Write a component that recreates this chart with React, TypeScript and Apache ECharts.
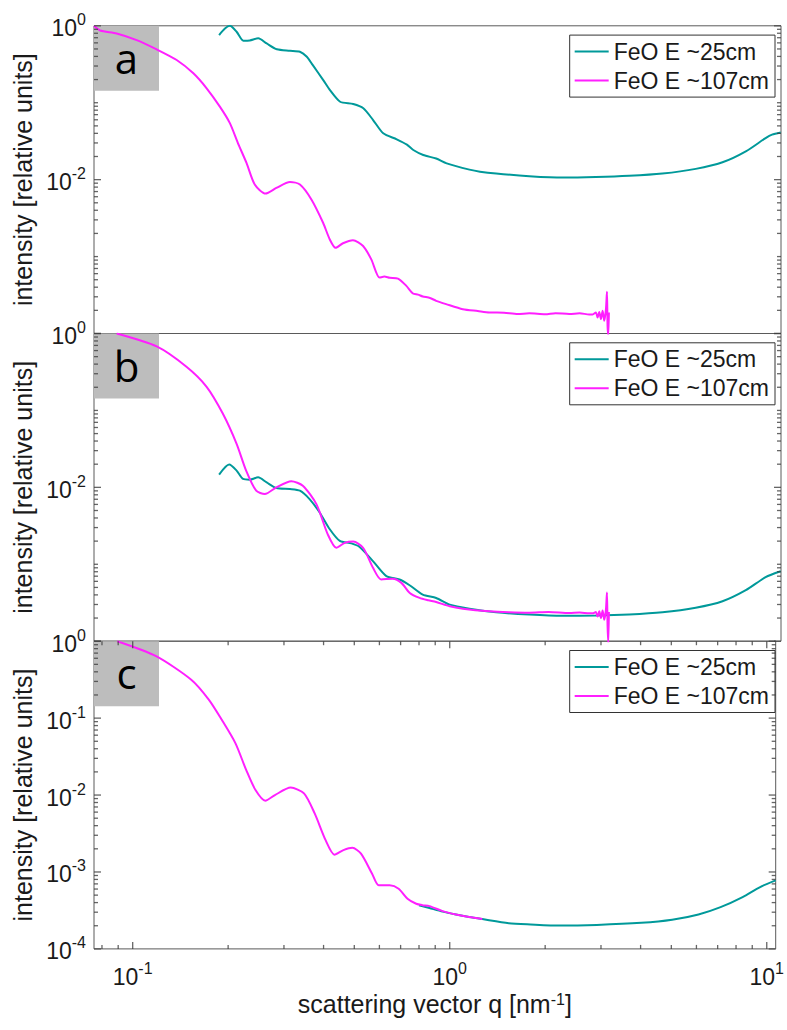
import React, { useEffect, useRef } from "react";
import * as echarts from "echarts";

// Series names shown in every legend
const SERIES_NAMES = ["FeO E ~25cm", "FeO E ~107cm"];
const PANEL_LETTERS = ["a", "b", "c"];
const TEAL = "#00999a";
const MAGENTA = "#ff1fff";

// Panel a: each curve normalised to its own maximum
const tealA: [number, number][] = [
  [0.186, 0.759], [0.194, 0.923], [0.201, 1.0], [0.211, 0.836], [0.2215, 0.64], [0.232, 0.645],
  [0.2466, 0.687], [0.262, 0.59], [0.282, 0.495], [0.31, 0.474], [0.333, 0.46], [0.35, 0.396],
  [0.365, 0.31], [0.394, 0.197], [0.413, 0.147], [0.445, 0.103], [0.489, 0.0962], [0.526, 0.0846],
  [0.5636, 0.06], [0.607, 0.04], [0.669, 0.0334], [0.72, 0.0285], [0.754, 0.0243], [0.81, 0.0209],
  [0.889, 0.0188], [0.959, 0.0163], [1.13, 0.0135], [1.219, 0.0127], [1.37, 0.012], [1.74, 0.0111],
  [2.21, 0.01063], [2.81, 0.0108], [3.57, 0.0112], [4.54, 0.012], [5.77, 0.0138], [7.0, 0.0168],
  [8.28, 0.0233], [9.55, 0.0347], [10.0, 0.0385], [10.65, 0.0411],
];
const magentaA: [number, number][] = [
  [0.0755, 1.0], [0.0789, 0.87], [0.0889, 0.796], [0.1027, 0.652], [0.1186, 0.494], [0.137, 0.359],
  [0.1545, 0.241], [0.17, 0.154], [0.187, 0.089], [0.201, 0.0543], [0.213, 0.0299], [0.2266, 0.0165],
  [0.2405, 0.00863], [0.26, 0.0066], [0.281, 0.0078], [0.31, 0.0093], [0.333, 0.00863], [0.3617, 0.00552],
  [0.3935, 0.00275], [0.413, 0.00167], [0.4307, 0.0013], [0.4541, 0.00149], [0.488, 0.00163],
  [0.525, 0.00137], [0.557, 0.00092], [0.591, 0.000533], [0.612, 0.00055], [0.636, 0.00053],
  [0.675, 0.000518], [0.717, 0.000416], [0.752, 0.000331], [0.78, 0.00032], [0.807, 0.000303],
  [0.85, 0.00029], [0.889, 0.000266], [0.955, 0.000241], [1.077, 0.000207], [1.2, 0.000196],
  [1.305, 0.000188], [1.45, 0.000186], [1.6, 0.000179], [1.74, 0.000183], [1.95, 0.000178],
  [2.1, 0.000184], [2.32, 0.000179], [2.5, 0.000183], [2.68, 0.000177], [2.745, 0.000177],
  [2.81, 0.000188], [2.845, 0.000162], [2.88, 0.000191], [2.915, 0.000154], [2.95, 0.000197],
  [2.985, 0.000146], [3.022, 0.000207], [3.044, 0.000348], [3.057, 0.000126], [3.073, 0.000095],
  [3.087, 0.000188],
];

// Panel b: curves scaled onto each other
const tealB: [number, number][] = [
  [0.186, 0.01465], [0.2, 0.0198], [0.211, 0.0165], [0.221, 0.01285], [0.232, 0.0126],
  [0.2464, 0.0135], [0.262, 0.0116], [0.281, 0.0098], [0.31, 0.0095], [0.333, 0.00904],
  [0.357, 0.00703], [0.384, 0.00471], [0.413, 0.00285], [0.444, 0.00201], [0.4826, 0.00187],
  [0.512, 0.00168], [0.5636, 0.0011], [0.621, 0.0007], [0.683, 0.000634], [0.734, 0.000534],
  [0.807, 0.000403], [0.889, 0.000365], [0.98, 0.000299], [1.13, 0.000265], [1.37, 0.000238],
  [1.74, 0.000222], [2.21, 0.000214], [2.81, 0.000216], [3.57, 0.000223], [4.54, 0.000238],
  [5.77, 0.000272], [7.0, 0.00033], [8.28, 0.00046], [9.55, 0.00068], [10.65, 0.00081],
];
const magentaB: [number, number][] = [
  [0.0889, 1.0], [0.1186, 0.68], [0.147, 0.37], [0.17, 0.203], [0.191, 0.091], [0.211, 0.0368],
  [0.226, 0.0165], [0.243, 0.00904], [0.2585, 0.00818], [0.281, 0.01], [0.313, 0.012],
  [0.34, 0.0105], [0.375, 0.00605], [0.407, 0.00245], [0.433, 0.00164], [0.46, 0.0019],
  [0.489, 0.00197], [0.525, 0.00164], [0.564, 0.0009], [0.598, 0.000634], [0.65, 0.00065],
  [0.692, 0.000573], [0.735, 0.000424], [0.789, 0.000365], [0.84, 0.00034], [0.889, 0.000323],
  [0.98, 0.000284], [1.077, 0.000265], [1.305, 0.000245], [1.5, 0.000238], [1.74, 0.000235],
  [2.0, 0.00024], [2.32, 0.000232], [2.5, 0.000236], [2.68, 0.00023], [2.745, 0.00023],
  [2.81, 0.00024], [2.845, 0.00021], [2.88, 0.000245], [2.915, 0.0002], [2.95, 0.00025],
  [2.985, 0.00019], [3.022, 0.00026], [3.044, 0.00043], [3.057, 0.00016], [3.073, 0.000095],
  [3.087, 0.00024],
];

// Panel c: merged curve, 107 cm at low q and 25 cm at high q
const tealC: [number, number][] = [
  [0.8, 0.00037], [0.863, 0.00034], [0.95, 0.000305], [1.046, 0.00028], [1.151, 0.00026],
  [1.267, 0.000244], [1.535, 0.000216], [1.8, 0.000208], [2.22, 0.000201], [2.91, 0.000205],
  [4.02, 0.000218], [5.03, 0.000239], [6.09, 0.00028], [7.15, 0.000349], [8.39, 0.000472],
  [9.53, 0.000637], [10.67, 0.000778],
];
const magentaC: [number, number][] = [
  [0.0894, 1.0], [0.1185, 0.64], [0.153, 0.316], [0.174, 0.173], [0.191, 0.095], [0.211, 0.047],
  [0.228, 0.0212], [0.244, 0.0116], [0.262, 0.00843], [0.281, 0.01], [0.315, 0.0125],
  [0.347, 0.0105], [0.375, 0.00577], [0.406, 0.00259], [0.433, 0.00168], [0.462, 0.00192],
  [0.493, 0.00206], [0.525, 0.00173], [0.569, 0.00095], [0.597, 0.00067], [0.647, 0.00067],
  [0.69, 0.000606], [0.736, 0.000449], [0.784, 0.000386], [0.82, 0.00037], [0.863, 0.00036],
  [0.95, 0.00031], [1.046, 0.00028], [1.151, 0.000259], [1.267, 0.000244],
];

const PANEL_DATA = [
  [tealA, magentaA],
  [tealB, magentaB],
  [tealC, magentaC],
];

// Axis ranges and tick positions
const Q_MIN = 0.0755;
const Q_MAX = 10.67;
const I_MIN = 1e-4;
const I_MAX = 1;

const xLabelExponents = [-1, 0, 1];
const yLabelExponentsAB = [0, -2];
const yLabelExponentsC = [0, -1, -2, -3, -4];

const xMajorTicks = [0.1, 1, 10];
const xMinorTicks = [0.08, 0.09, 0.2, 0.3, 0.4, 0.5, 0.6, 0.7, 0.8, 0.9, 2, 3, 4, 5, 6, 7, 8, 9];
const yMajorTicksAB = [1, 1e-2, 1e-4];
const yMinorTicksAB = [
  2e-4, 3e-4, 4e-4, 5e-4, 6e-4, 7e-4, 8e-4, 9e-4, 1e-3,
  2e-3, 3e-3, 4e-3, 5e-3, 6e-3, 7e-3, 8e-3, 9e-3,
  2e-2, 3e-2, 4e-2, 5e-2, 6e-2, 7e-2, 8e-2, 9e-2, 1e-1,
  0.2, 0.3, 0.4, 0.5, 0.6, 0.7, 0.8, 0.9,
];
const yMajorTicksC = [1, 1e-1, 1e-2, 1e-3, 1e-4];
const yMinorTicksC = [
  2e-4, 3e-4, 4e-4, 5e-4, 6e-4, 7e-4, 8e-4, 9e-4,
  2e-3, 3e-3, 4e-3, 5e-3, 6e-3, 7e-3, 8e-3, 9e-3,
  2e-2, 3e-2, 4e-2, 5e-2, 6e-2, 7e-2, 8e-2, 9e-2,
  0.2, 0.3, 0.4, 0.5, 0.6, 0.7, 0.8, 0.9,
];

// Layout
const PLOT_LEFT = 94;
const PLOT_WIDTH = 687;
const PANEL_TOPS = [25.8, 333.5, 641.2];
const PANEL_HEIGHT = 307.7;
const BOX_SIZE = 65;
const MAJOR_LEN = 7;
const MINOR_LEN = 4;
const TICK_WIDTH = 1.3;
const FONT = "'Liberation Sans', Arial, Helvetica, sans-serif";
const AXIS_COLOR = "#5a5a5a";
const TICK_COLOR = "#404040";
const TEXT_COLOR = "#1a1a1a";

const powerRich = {
  b: { fontSize: 23, fontFamily: FONT, color: TEXT_COLOR, padding: [5, 0, 0, 0] },
  e: { fontSize: 16, fontFamily: FONT, color: TEXT_COLOR, verticalAlign: "top" },
};

const powerFormatter = (allowed: number[]) => (v: number) => {
  const lg = Math.log10(v);
  const e = Math.round(lg);
  if (Math.abs(lg - e) > 1e-6 || !allowed.includes(e)) return "";
  return `{b|10}{e|${e}}`;
};

// Inward tick marks on the box edges, placed through the panel's own axes
function tickMarks(showX: boolean, yMajor: number[], yMinor: number[]) {
  const items: any[] = [];
  const mark = (x: number, y: number, w: number, h: number, ox: number, oy: number) =>
    items.push({ value: [x, y], symbolSize: [w, h], symbolOffset: [ox, oy] });
  if (showX) {
    const addX = (v: number, len: number) => {
      if (v < Q_MIN || v > Q_MAX) return;
      mark(v, I_MIN, TICK_WIDTH, len, 0, -len / 2);
      mark(v, I_MAX, TICK_WIDTH, len, 0, len / 2);
    };
    xMajorTicks.forEach((v) => addX(v, MAJOR_LEN));
    xMinorTicks.forEach((v) => addX(v, MINOR_LEN));
  }
  const addY = (v: number, len: number) => {
    mark(Q_MIN, v, len, TICK_WIDTH, len / 2, 0);
    mark(Q_MAX, v, len, TICK_WIDTH, -len / 2, 0);
  };
  yMajor.forEach((v) => addY(v, MAJOR_LEN));
  yMinor.forEach((v) => addY(v, MINOR_LEN));
  return items;
}

export default function App() {
  const ref = useRef<HTMLDivElement>(null);

  useEffect(() => {
    if (!ref.current) return;
    const chart = echarts.init(ref.current, null, { renderer: "svg" });

    const grids = PANEL_TOPS.map((top) => ({
      left: PLOT_LEFT,
      top,
      width: PLOT_WIDTH,
      height: PANEL_HEIGHT,
      show: true,
      borderColor: AXIS_COLOR,
      borderWidth: 1,
      backgroundColor: "transparent",
    }));

    const xAxes = PANEL_TOPS.map((_, i) => ({
      type: "log",
      logBase: 10,
      gridIndex: i,
      min: Q_MIN,
      max: Q_MAX,
      axisLine: { show: false },
      axisTick: { show: false },
      splitLine: { show: false },
      axisLabel: {
        show: i === 2,
        formatter: powerFormatter(xLabelExponents),
        rich: powerRich,
        margin: 12,
      },
      name: i === 2 ? "scattering vector q [nm{s|-1}]" : "",
      nameLocation: "middle",
      nameGap: 43,
      nameTextStyle: {
        fontSize: 25,
        fontFamily: FONT,
        color: TEXT_COLOR,
        rich: {
          s: { fontSize: 16, fontFamily: FONT, color: TEXT_COLOR, verticalAlign: "top" },
        },
      },
    }));

    const yAxes = PANEL_TOPS.map((_, i) => ({
      type: "log",
      logBase: 10,
      gridIndex: i,
      min: I_MIN,
      max: I_MAX,
      axisLine: { show: false },
      axisTick: { show: false },
      splitLine: { show: false },
      axisLabel: {
        formatter: powerFormatter(i === 2 ? yLabelExponentsC : yLabelExponentsAB),
        rich: powerRich,
        margin: 8,
      },
      name: "intensity [relative units]",
      nameLocation: "middle",
      nameGap: 56,
      nameTextStyle: { fontSize: 25, fontFamily: FONT, color: TEXT_COLOR },
    }));

    const series: any[] = [];
    PANEL_DATA.forEach((pair, i) => {
      pair.forEach((data, k) => {
        series.push({
          type: "line",
          name: SERIES_NAMES[k],
          xAxisIndex: i,
          yAxisIndex: i,
          data,
          showSymbol: false,
          symbol: "none",
          smooth: 0.25,
          lineStyle: { width: 2, color: k === 0 ? TEAL : MAGENTA },
          itemStyle: { color: k === 0 ? TEAL : MAGENTA },
          z: 3,
        });
      });
      series.push({
        type: "scatter",
        name: "ticks",
        xAxisIndex: i,
        yAxisIndex: i,
        symbol: "rect",
        data: tickMarks(
          i === 2,
          i === 2 ? yMajorTicksC : yMajorTicksAB,
          i === 2 ? yMinorTicksC : yMinorTicksAB
        ),
        itemStyle: { color: TICK_COLOR },
        silent: true,
        clip: false,
        z: 5,
      });
    });

    const legends = PANEL_TOPS.map((top) => ({
      data: SERIES_NAMES,
      orient: "vertical",
      right: 12,
      top: top + 9.3,
      icon: "rect",
      itemWidth: 34,
      itemHeight: 2,
      itemGap: 6,
      padding: [5, 6, 5, 5],
      borderColor: "#333",
      borderWidth: 1,
      backgroundColor: "#fff",
      selectedMode: false,
      textStyle: { fontSize: 23, fontFamily: FONT, color: TEXT_COLOR },
    }));

    const graphic = PANEL_TOPS.flatMap((top, i) => [
      {
        type: "rect",
        shape: { x: PLOT_LEFT, y: top, width: BOX_SIZE, height: BOX_SIZE },
        style: { fill: "#bdbdbd" },
        z: 1,
        silent: true,
      },
      {
        type: "text",
        x: PLOT_LEFT + BOX_SIZE / 2,
        y: top + BOX_SIZE / 2 - 1,
        style: {
          text: PANEL_LETTERS[i],
          fontSize: 42,
          fontFamily: "'Open Sans', 'Noto Sans', sans-serif",
          fill: "#000",
          align: "center",
          verticalAlign: "middle",
        },
        z: 1,
        silent: true,
      },
    ]);

    chart.setOption({
      animation: false,
      backgroundColor: "#fff",
      grid: grids,
      xAxis: xAxes,
      yAxis: yAxes,
      legend: legends,
      graphic,
      series,
    });

    return () => chart.dispose();
  }, []);

  return (
    <div
      ref={ref}
      style={{ position: "absolute", left: 0, top: 0, width: 787, height: 1030 }}
    />
  );
}
